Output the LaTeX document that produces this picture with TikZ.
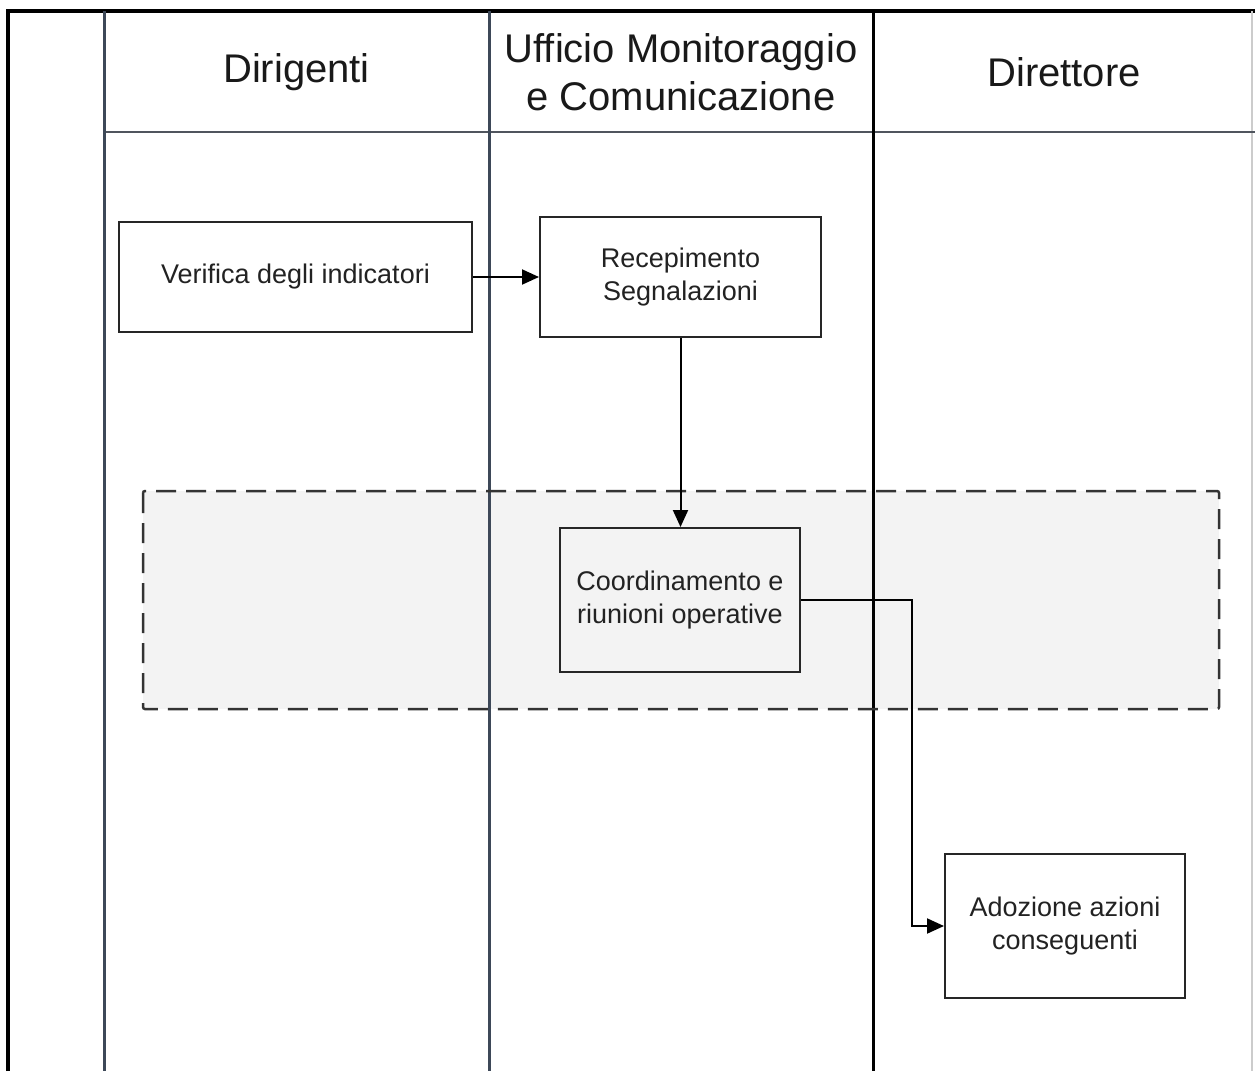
\documentclass[tikz,border=0pt]{standalone}
\usepackage{fontspec}
\setmainfont{Liberation Sans}
\usetikzlibrary{arrows.meta}
\definecolor{lanedark}{HTML}{3D4858}
\definecolor{hdrline}{HTML}{50555E}
\definecolor{bandfill}{HTML}{F3F3F3}
\definecolor{txt}{HTML}{222222}
\tikzset{
  procbox/.style={draw=black!85, line width=2pt, fill=white, inner sep=0pt, align=center,
    text=txt, font=\fontsize{27}{33}\selectfont},
  hdr/.style={align=center, text=black!90, font=\fontsize{40}{48}\selectfont},
  arr/.style={draw=black, line width=2pt, -{Triangle[length=17pt,width=15pt]}},
  laneline/.style={line width=3pt},
}
\begin{document}
\begin{tikzpicture}[x=1pt,y=-1pt]
\useasboundingbox[fill=white] (0,0) rectangle (1255,1071);
% group band (fill)
\fill[bandfill] (143,491) rectangle (1219,709);
% outer frame
\draw[line width=4pt, black] (8,1071) -- (8,11) -- (1255,11);
\draw[line width=1.5pt, black!20] (1252,11) -- (1252,1071);
% header separator
\draw[line width=2.5pt, hdrline] (104,132) -- (1255,132);
% lane dividers
\draw[laneline, lanedark] (104,11) -- (104,1071);
\draw[laneline, lanedark] (489,11) -- (489,1071);
\draw[laneline, black] (873,11) -- (873,1071);
% band dashed border
\draw[line width=2.5pt, black!80, dash pattern=on 20pt off 10pt, rounded corners=2pt] (143,491) rectangle (1219,709);
% headers
\node[hdr] (h1) at (296.5,72) {Dirigenti};
\node[hdr] (h2) at (681,72) {Ufficio Monitoraggio\\e Comunicazione};
\node[hdr] (h3) at (1064,72) {Direttore};
% process boxes
\node[procbox, minimum width=353pt, minimum height=110pt] (verif) at (295.5,277) {Verifica degli indicatori};
\node[procbox, minimum width=281pt, minimum height=120pt] (recep) at (680.5,277) {Recepimento\\Segnalazioni};
\node[procbox, fill=bandfill, minimum width=240pt, minimum height=144pt] (coord) at (680,600) {Coordinamento e\\riunioni operative};
\node[procbox, minimum width=240pt, minimum height=144pt] (adoz) at (1065,926) {Adozione azioni\\conseguenti};
% connectors
\draw[arr] (verif.east) -- (recep.west);
\draw[arr] (recep.south) -- (recep.south |- coord.north);
\draw[arr] (coord.east) -- ++(111,0) |- (adoz.west);
\end{tikzpicture}
\end{document}
